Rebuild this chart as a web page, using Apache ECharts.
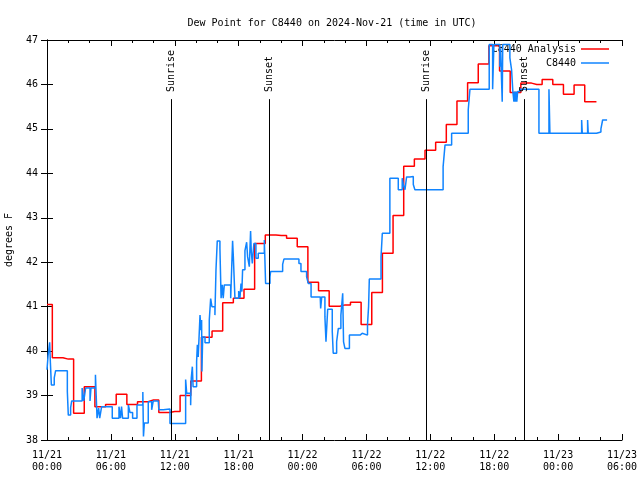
<!DOCTYPE html>
<html><head><meta charset="utf-8">
<script src="https://cdn.jsdelivr.net/npm/echarts@6/dist/echarts.min.js"></script>
<style>html,body{margin:0;padding:0;background:#fff}#c{width:640px;height:480px}</style>
</head><body><div id="c"></div><script>
// x values are hours since 2024-11-21 00:00 UTC
const xTickLabels = ['11/21\n00:00','11/21\n06:00','11/21\n12:00','11/21\n18:00','11/22\n00:00','11/22\n06:00','11/22\n12:00','11/22\n18:00','11/23\n00:00','11/23\n06:00'];
const yTicks = [38,39,40,41,42,43,44,45,46,47];

// C8440 Analysis: hourly values (hour 0..51) plus end time
const analysisValues = [41.05,39.85,39.82,38.6,39.2,38.75,38.8,39.03,38.8,38.86,
  38.9,38.62,38.64,39.0,39.33,40.31,40.45,41.09,41.19,41.39,
  42.42,42.61,42.6,42.54,42.35,41.55,41.36,41.01,41.04,41.1,
  40.6,41.32,42.2,43.05,44.16,44.32,44.52,44.7,45.1,45.63,
  46.04,46.46,46.87,46.3,45.82,46.03,46.0,46.11,46.0,45.78,
  45.99,45.61];
const analysisEnd = 51.6;

// C8440 observations: change times (hours) and values
const obsTimes = [0.0,0.1,0.25,0.32,0.41,0.68,0.81,1.91,2.0,2.22,
  2.32,3.3,3.45,3.54,3.63,4.04,4.13,4.55,4.62,4.7,
  4.85,4.95,5.13,6.13,6.76,6.9,7.0,7.1,7.64,7.79,
  8.04,8.45,9.0,9.06,9.14,9.51,9.83,9.98,10.45,10.5,
  10.92,11.55,13.02,13.12,13.49,13.55,13.65,13.72,13.9,14.05,
  14.12,14.2,14.37,14.46,14.52,14.55,14.62,14.84,15.24,15.37,
  15.49,15.77,15.87,15.99,16.24,16.35,16.46,16.55,16.65,17.25,
  17.43,17.5,17.65,18.0,18.12,18.22,18.3,18.37,18.59,18.75,
  18.84,19.0,19.12,19.18,19.28,19.43,19.62,19.84,20.41,20.53,
  20.94,21.0,22.13,22.25,23.66,23.85,24.38,24.54,24.8,25.66,
  25.7,25.8,26.1,26.2,26.36,26.79,26.88,27.2,27.36,27.6,
  27.77,27.85,27.98,28.4,29.4,29.6,30.1,30.2,30.27,31.37,
  31.49,32.2,32.99,33.36,33.46,33.62,33.77,34.08,34.4,34.55,
  37.2,37.38,38.0,39.56,39.72,41.53,41.85,41.97,42.53,42.6,
  42.75,42.8,43.47,43.63,43.75,43.85,43.92,43.98,44.05,44.12,
  44.2,44.41,46.2,47.14,47.23,50.21,50.27,50.77,50.83,51.61,
  52.02,52.18,52.6];
const obsValues = [39.58,39.9,40.2,39.73,39.24,39.4,39.56,39.09,38.56,38.73,
  38.88,39.17,38.88,39.02,39.17,38.88,39.17,39.47,39.0,38.49,
  38.72,38.49,38.75,38.49,38.75,38.49,38.75,38.49,38.79,38.62,
  38.49,38.79,39.08,38.08,38.38,38.86,38.68,38.88,38.92,38.68,
  38.7,38.37,39.36,39.05,38.78,39.4,39.65,39.2,39.2,39.76,
  40.14,39.87,40.81,40.47,40.7,39.54,40.32,40.19,40.7,41.18,
  41.0,40.81,41.83,42.48,42.31,41.19,41.49,41.19,41.49,41.19,
  42.48,42.12,41.19,41.35,41.19,41.52,41.34,41.83,42.26,42.45,
  42.12,41.9,42.7,42.26,41.97,42.42,42.09,42.2,42.5,41.52,
  41.67,41.79,41.95,42.07,41.97,41.79,41.67,41.52,41.22,41.25,
  40.96,41.22,40.77,40.21,40.94,40.44,39.95,40.21,40.51,40.81,
  41.3,40.21,40.06,40.36,40.4,40.36,40.6,41.0,41.62,42.12,
  42.65,43.89,43.63,43.89,43.75,43.63,43.92,43.93,43.75,43.63,
  44.15,44.64,44.9,45.43,45.89,46.9,45.89,46.9,46.4,46.8,
  45.61,46.9,46.6,46.33,45.84,45.61,45.84,45.61,45.84,45.61,
  45.84,45.89,44.9,45.89,44.9,45.2,44.9,45.2,44.9,44.93,
  45.0,45.2,45.2];

const sunNames = ['Sunrise','Sunset','Sunrise','Sunset'];
const sunTimes = [11.67,20.88,35.59,44.79];
const sunLineTop = 45.67;

const FONT = 'DejaVu Sans Mono';
const analysisData = analysisValues.map((v,i)=>[i,v]);
analysisData.push([analysisEnd, analysisValues[analysisValues.length-1]]);
const obsData = obsTimes.map((t,i)=>[t,obsValues[i]]);
const LINE_ICON = 'path://M0,0 L28,0 L28,1.5 L0,1.5 Z';

const chart = echarts.init(document.getElementById('c'), null, {renderer:'canvas'});
const baseX = {type:'value', min:0, max:54, interval:6, splitLine:{show:false},
  axisLine:{show:true, lineStyle:{color:'#000', width:1}},
  axisTick:{inside:true, length:6, lineStyle:{color:'#000'}},
  minorTick:{show:true, splitNumber:3, length:3, lineStyle:{color:'#000'}}};
const baseY = {type:'value', min:38, max:47, interval:1, splitLine:{show:false},
  axisLine:{show:true, lineStyle:{color:'#000', width:1}},
  axisTick:{inside:true, length:6, lineStyle:{color:'#000'}}};
chart.setOption({
  animation:false,
  backgroundColor:'#fff',
  title:{text:'Dew Point for C8440 on 2024-Nov-21 (time in UTC)', left:327, top:13, textAlign:'center',
    textStyle:{fontFamily:FONT, fontSize:10, fontWeight:'normal', color:'#000'}},
  legend:{orient:'vertical', right:26, top:39, align:'right', itemWidth:28, itemHeight:10, itemGap:4,
    textStyle:{fontFamily:FONT, fontSize:10, color:'#000'},
    data:[{name:'C8440 Analysis', icon:LINE_ICON},{name:'C8440', icon:LINE_ICON}]},
  grid:{left:47, right:18, top:40, bottom:40, containLabel:false, outerBoundsMode:'none'},
  xAxis:[Object.assign({}, baseX, {position:'bottom',
      axisLabel:{fontFamily:FONT, fontSize:10, color:'#000', lineHeight:12, margin:9,
        formatter:(v)=>xTickLabels[Math.round(v/6)]}}),
    Object.assign({}, baseX, {position:'top', axisLabel:{show:false}})],
  yAxis:[Object.assign({}, baseY, {position:'left', name:'degrees F', nameLocation:'middle', nameGap:33, nameRotate:90,
      nameTextStyle:{fontFamily:FONT, fontSize:10, color:'#000'},
      axisLabel:{fontFamily:FONT, fontSize:10, color:'#000', margin:9, formatter:(v)=>yTicks.includes(v)?String(v):''}}),
    Object.assign({}, baseY, {position:'right', axisLabel:{show:false}})],
  series:[
    {name:'C8440 Analysis', type:'line', step:'middle', symbol:'none', data:analysisData,
      lineStyle:{color:'#ff0000', width:1.5}, itemStyle:{color:'#ff0000'}, z:3,
      markLine:{symbol:'none', silent:true, animation:false,
        lineStyle:{color:'#000', width:1, type:'solid'},
        label:{show:true, position:'end', rotate:90, align:'left', verticalAlign:'middle',
          formatter:'{b}', fontFamily:FONT, fontSize:10, color:'#000', distance:7},
        data:sunTimes.map((t,i)=>[{coord:[t,38], name:sunNames[i]},{coord:[t,sunLineTop]}])}},
    {name:'C8440', type:'line', step:'end', symbol:'none', data:obsData,
      lineStyle:{color:'#1084ff', width:1.5}, itemStyle:{color:'#1084ff'}, z:4}
  ]
});
</script></body></html>
